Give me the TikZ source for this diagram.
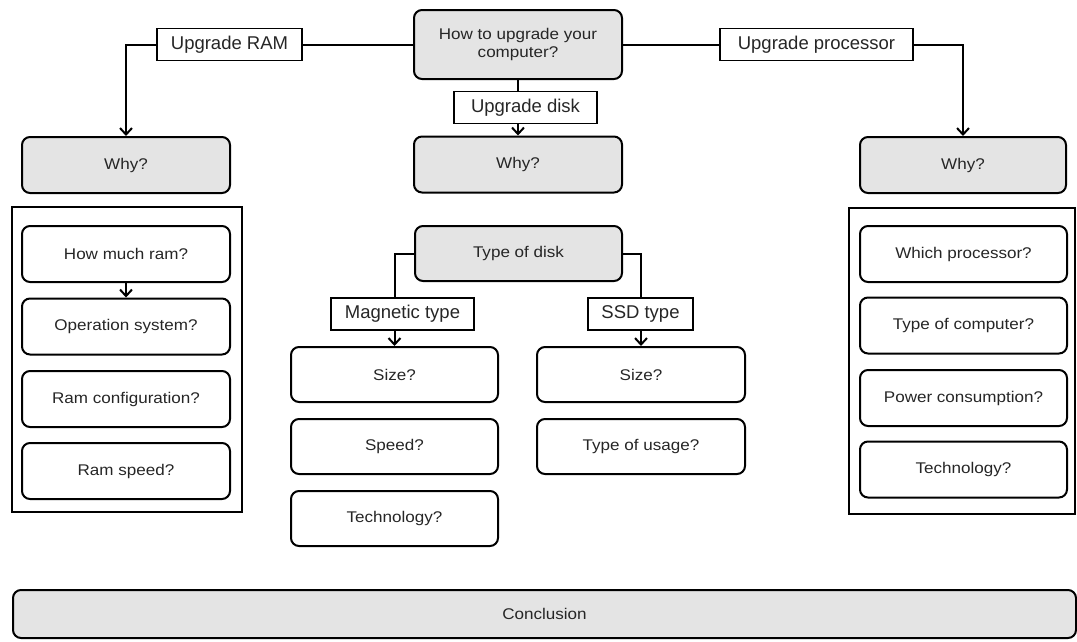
\documentclass[tikz,border=0pt]{standalone}
\usepackage{fontspec}
\setmainfont{Liberation Sans}
\newfontfamily\boxfont[FakeStretch=1.1]{Liberation Sans}
\usepackage{xcolor}
\usetikzlibrary{arrows.meta}
\definecolor{boxgray}{RGB}{228,228,228}

\begin{document}
\begin{tikzpicture}[x=1pt,y=-1pt]
	\tikzstyle{qbox} = [draw=black, line width=2, rounded corners=8, minimum width=208, minimum height=56, inner sep=0, align=center, text=black!85, font=\boxfont\fontsize{15.5}{18}\selectfont]
	\tikzstyle{graybox} = [qbox, fill=boxgray]
	\tikzstyle{tag} = [draw=black, line width=1.8, fill=white, minimum height=32, inner sep=0, text=black!85, font=\fontsize{18.5}{22}\selectfont]
	\tikzstyle{frame} = [draw=black, line width=2.2, inner sep=0]
	\tikzstyle{edge} = [draw=black, line width=2]
	\tikzstyle{arr} = [edge, -{Straight Barb[length=6.5pt,width=12pt]}]
	\useasboundingbox (0,0) rectangle (1077,641);
		\node[graybox, minimum height=69] (q) at (518,44.5) {How to upgrade your\\computer?};
		\node[tag, minimum width=145] (lram) at (229.5,44.5) {Upgrade RAM};
		\node[tag, minimum width=193] (lproc) at (816.5,44.5) {Upgrade processor};
		\node[tag, minimum width=143] (ldisk) at (525.5,107.5) {Upgrade disk};
		\node[graybox] (whyl) at (126,165) {Why?};
		\node[graybox] (whyc) at (518,164.5) {Why?};
		\node[graybox, minimum width=206] (whyr) at (963,165) {Why?};
		\node[frame, minimum width=230, minimum height=305] (ramframe) at (127,359.5) {};
		\node[qbox] (ram1) at (126,254) {How much ram?};
		\node[qbox] (ram2) at (126,326.5) {Operation system?};
		\node[qbox] (ram3) at (126,399) {Ram configuration?};
		\node[qbox] (ram4) at (126,471) {Ram speed?};
		\node[graybox, minimum width=207, minimum height=55] (tdisk) at (518.5,253.5) {Type of disk};
		\node[tag, minimum width=143] (lmag) at (402.5,314) {Magnetic type};
		\node[tag, minimum width=105] (lssd) at (640.5,314) {SSD type};
		\node[qbox, minimum width=207, minimum height=55] (mag1) at (394.5,374.5) {Size?};
		\node[qbox, minimum width=207, minimum height=55] (mag2) at (394.5,446.5) {Speed?};
		\node[qbox, minimum width=207, minimum height=55] (mag3) at (394.5,518.5) {Technology?};
		\node[qbox, minimum height=55] (ssd1) at (641,374.5) {Size?};
		\node[qbox, minimum height=55] (ssd2) at (641,446.5) {Type of usage?};
		\node[frame, minimum width=226, minimum height=306] (procframe) at (962,361) {};
		\node[qbox, minimum width=207] (proc1) at (963.5,254) {Which processor?};
		\node[qbox, minimum width=207] (proc2) at (963.5,325.5) {Type of computer?};
		\node[qbox, minimum width=207] (proc3) at (963.5,398) {Power consumption?};
		\node[qbox, minimum width=207] (proc4) at (963.5,469.5) {Technology?};
		\node[graybox, minimum width=1063, minimum height=48] (concl) at (544.5,614) {Conclusion};
	\draw[edge] (q.west) -- (lram.east);
	\draw[arr] (lram.west) -| (whyl.north);
	\draw[edge] (q.east) -- (lproc.west);
	\draw[arr] (lproc.east) -| (whyr.north);
	\draw[edge] (q.south) -- (q.south |- ldisk.north);
	\draw[arr] (whyc.north |- ldisk.south) -- (whyc.north);
	\draw[arr] (ram1.south) -- (ram2.north);
	\draw[edge] (tdisk.west) -| (mag1.north |- lmag.north);
	\draw[arr] (mag1.north |- lmag.south) -- (mag1.north);
	\draw[edge] (tdisk.east) -| (ssd1.north |- lssd.north);
	\draw[arr] (ssd1.north |- lssd.south) -- (ssd1.north);
\end{tikzpicture}
\end{document}
